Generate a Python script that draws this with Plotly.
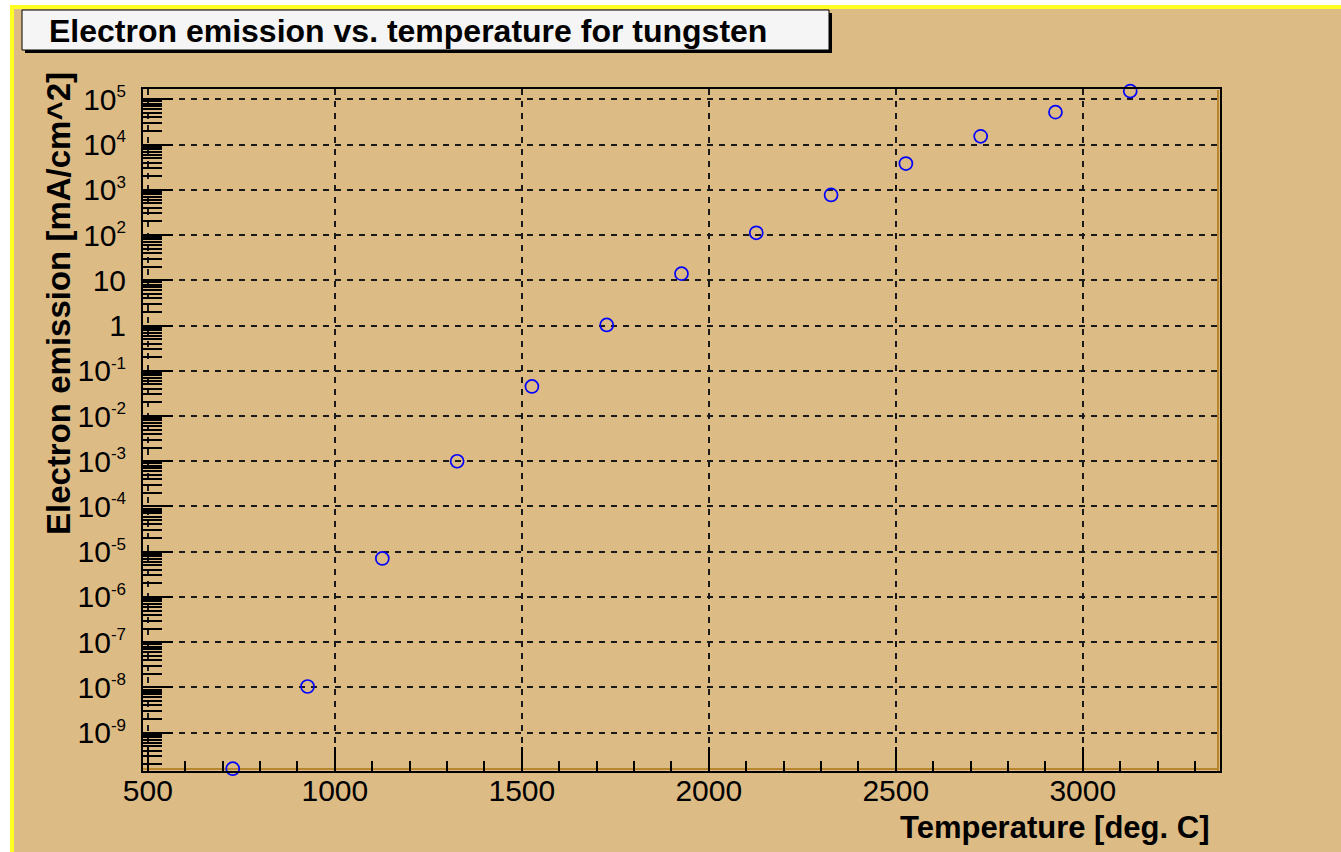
import plotly.graph_objects as go

# ---- data ----
temperature_c = [727, 927, 1127, 1327, 1527, 1727, 1927, 2127, 2327, 2527, 2727, 2927, 3127]
emission = [1.6e-10, 1.05e-8, 7.1e-6, 1.0e-3, 4.5e-2, 1.03, 14, 112, 770, 3800, 1.52e4, 5.2e4, 1.52e5]

x_tickvals = [500, 1000, 1500, 2000, 2500, 3000]
x_ticktext = ["500", "1000", "1500", "2000", "2500", "3000"]
y_exponents = [5, 4, 3, 2, 1, 0, -1, -2, -3, -4, -5, -6, -7, -8, -9]
y_tickvals = [10.0 ** e for e in y_exponents]
SUP = "<sup><span style='font-size:17px'>%s</span></sup>"
y_ticktext = ["10" + SUP % "5", "10" + SUP % "4", "10" + SUP % "3", "10" + SUP % "2", "10", "1",
              "10" + SUP % "-1", "10" + SUP % "-2", "10" + SUP % "-3", "10" + SUP % "-4",
              "10" + SUP % "-5", "10" + SUP % "-6", "10" + SUP % "-7", "10" + SUP % "-8", "10" + SUP % "-9"]
y_minor = [m * 10.0 ** e for e in range(-10, 6) for m in range(2, 10)]

TITLE = "Electron emission vs. temperature for tungsten"
XTITLE = "Temperature [deg. C]"
YTITLE = "Electron emission [mA/cm^2]"

# ---- layout geometry ----
W, H = 1341, 852
L, R, T, B = 143, 1220, 89, 771
PW, PH = R - L, B - T


def px(x):
    return (x - L) / PW


def py(y):
    return (B - y) / PH


TAN = "#ddbb85"
YELLOW = "#ffff22"
BEVEL = "#b8862e"
FONT = "Liberation Sans"

fig = go.Figure()
fig.add_trace(go.Scatter(
    x=temperature_c, y=emission, mode="markers",
    marker=dict(symbol="circle-open", size=13, color="#0000ff", line=dict(width=1.7, color="#0000ff")),
    showlegend=False, cliponaxis=False,
))

grid = dict(showgrid=True, gridcolor="#1a1a1a", gridwidth=2, griddash="6px,6px")

fig.update_xaxes(
    range=[487, 3367], tickmode="array", tickvals=x_tickvals, ticktext=x_ticktext,
    ticks="inside", ticklen=24, tickwidth=2, tickcolor="black",
    minor=dict(dtick=100, tick0=500, ticks="inside", ticklen=10, tickwidth=2, tickcolor="black", showgrid=False),
    showline=True, linecolor="black", linewidth=2, mirror=True, zeroline=False,
    tickfont=dict(family=FONT, size=30, color="black"), ticklabelstandoff=-8,
    **grid,
)
fig.update_yaxes(
    type="log", range=[-9.847, 5.228], tickmode="array", tickvals=y_tickvals, ticktext=y_ticktext,
    ticks="inside", ticklen=30, tickwidth=2, tickcolor="black",
    minor=dict(tickmode="array", tickvals=y_minor, ticks="inside", ticklen=19, tickwidth=2,
               tickcolor="black", showgrid=False),
    showline=True, linecolor="black", linewidth=2, mirror=True, zeroline=False,
    tickfont=dict(family=FONT, size=30, color="black"), ticklabelstandoff=9,
    **grid,
)

shapes = [
    # white outside strip + yellow highlight (top and left)
    dict(type="rect", xref="paper", yref="paper", x0=px(0), x1=px(10), y0=py(H), y1=py(0),
         fillcolor="white", line=dict(width=0), layer="above"),
    dict(type="rect", xref="paper", yref="paper", x0=px(0), x1=px(W), y0=py(5), y1=py(0),
         fillcolor="white", line=dict(width=0), layer="above"),
    dict(type="rect", xref="paper", yref="paper", x0=px(10), x1=px(14), y0=py(H), y1=py(5),
         fillcolor=YELLOW, line=dict(width=0), layer="above"),
    dict(type="rect", xref="paper", yref="paper", x0=px(10), x1=px(W), y0=py(9), y1=py(5),
         fillcolor=YELLOW, line=dict(width=0), layer="above"),
    # frame bevel (inner bottom and right)
    dict(type="line", xref="paper", yref="paper", x0=px(L), x1=px(R - 1), y0=py(B - 2), y1=py(B - 2),
         line=dict(color=BEVEL, width=2), layer="below"),
    dict(type="line", xref="paper", yref="paper", x0=px(R - 2), x1=px(R - 2), y0=py(B), y1=py(T + 1),
         line=dict(color=BEVEL, width=2), layer="below"),
    # title box shadow and box
    dict(type="rect", xref="paper", yref="paper", x0=px(25), x1=px(832), y0=py(53), y1=py(13),
         fillcolor="black", line=dict(width=0), layer="above"),
    dict(type="rect", xref="paper", yref="paper", x0=px(22), x1=px(829), y0=py(50), y1=py(10),
         fillcolor="#f5f5f5", line=dict(color="black", width=1), layer="above"),
]

annotations = [
    dict(text=TITLE, xref="paper", yref="paper", x=px(47), y=py(31), xanchor="left", yanchor="middle",
         showarrow=False, font=dict(family=FONT, size=32, color="black", weight="bold")),
    dict(text=XTITLE, xref="paper", yref="paper", x=px(1211), y=py(827), xanchor="right", yanchor="middle",
         showarrow=False, font=dict(family=FONT, size=31, color="black", weight="bold")),
    dict(text=YTITLE, xref="paper", yref="paper", x=px(58), y=py(304), xanchor="center", yanchor="middle",
         textangle=-90, showarrow=False, font=dict(family=FONT, size=33, color="black", weight="bold")),
]

fig.update_layout(
    width=W, height=H, margin=dict(l=L, r=W - R, t=T, b=H - B, autoexpand=False),
    paper_bgcolor=TAN, plot_bgcolor=TAN, shapes=shapes, annotations=annotations,
    showlegend=False,
)

fig.write_html("out.html")
